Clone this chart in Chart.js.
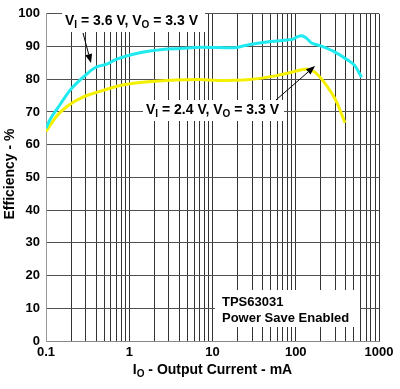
<!DOCTYPE html>
<html><head><meta charset="utf-8">
<script src="https://cdn.jsdelivr.net/npm/chart.js@4/dist/chart.umd.min.js"></script>
<style>html,body{margin:0;padding:0;background:#fff}</style>
</head><body>
<canvas id="c" width="400" height="389"></canvas>
<script>
// ---- data ----
const cyanCurrent = [0.1, 0.112, 0.147, 0.194, 0.25, 0.294, 0.35, 0.406, 0.536, 0.675, 0.93, 1.3, 1.77, 2.5, 4.07, 7.1, 12, 17.6, 22, 28, 44.8, 78, 94, 105, 118, 135, 155, 195, 282, 407, 515, 617];
const cyanEfficiency = [65, 67.7, 72.2, 76.6, 79.5, 81.1, 82.8, 83.8, 84.6, 85.9, 87.1, 88, 88.6, 89.1, 89.4, 89.8, 89.7, 89.6, 90, 90.6, 91.4, 92, 92.3, 93, 93.3, 92.5, 91.1, 90.3, 88.6, 86.1, 84.1, 80.6];
const yellowCurrent = [0.1, 0.134, 0.177, 0.281, 0.446, 0.775, 1.35, 2.82, 7.1, 11.2, 28, 59, 94, 135, 171, 234, 309, 390];
const yellowEfficiency = [64, 68.7, 71.6, 74.6, 76.3, 78.1, 79.0, 79.6, 79.9, 79.6, 79.9, 81.1, 82.3, 83.1, 82.1, 78.1, 73.1, 66.7];
const xGridValues = [0.1,0.2,0.3,0.4,0.5,0.6,0.7,0.8,0.9,1,2,3,4,5,6,7,8,9,10,20,30,40,50,60,70,80,90,100,200,300,400,500,600,700,800,900,1000];
const xTickLabels = ['0.1','1','10','100','1000'];
const seriesNames = ['VI = 3.6 V, VO = 3.3 V', 'VI = 2.4 V, VO = 3.3 V'];

const FONT = '"Liberation Sans", Arial, sans-serif';

function pts(xs, ys){ return xs.map((x,i)=>({x:x, y:ys[i]})); }

function rich(ctx, parts, x, y, size, subSize){
  let cx = x;
  parts.forEach(p=>{
    ctx.font = 'bold ' + (p.sub ? subSize : size) + 'px ' + FONT;
    ctx.fillText(p.t, cx, p.sub ? y + 3 : y);
    cx += ctx.measureText(p.t).width;
  });
  return cx - x;
}
function richWidth(ctx, parts, size, subSize){
  let w = 0;
  parts.forEach(p=>{ ctx.font = 'bold ' + (p.sub ? subSize : size) + 'px ' + FONT; w += ctx.measureText(p.t).width; });
  return w;
}
function arrow(ctx, x1, y1, x2, y2){
  ctx.save();
  ctx.strokeStyle = '#000'; ctx.fillStyle = '#000'; ctx.lineWidth = 1;
  const a = Math.atan2(y2-y1, x2-x1), L = 9, W = 3.5;
  const bx = x2 - L*Math.cos(a), by = y2 - L*Math.sin(a);
  ctx.beginPath(); ctx.moveTo(x1,y1); ctx.lineTo(bx,by); ctx.stroke();
  ctx.beginPath(); ctx.moveTo(x2,y2);
  ctx.lineTo(bx + W*Math.sin(a), by - W*Math.cos(a));
  ctx.lineTo(bx - W*Math.sin(a), by + W*Math.cos(a));
  ctx.closePath(); ctx.fill();
  ctx.restore();
}

const annot = {
  id: 'annot',
  afterDatasetsDraw(chart){
    const ctx = chart.ctx;
    ctx.save();
    ctx.fillStyle = '#000';
    ctx.textBaseline = 'alphabetic';
    ctx.textAlign = 'left';
    // label 1
    const l1 = [{t:'V'},{t:'I',sub:true},{t:' = 3.6 V, V'},{t:'O',sub:true},{t:' = 3.3 V'}];
    ctx.fillStyle = '#fff'; ctx.fillRect(62, 11, 143, 21);
    ctx.fillStyle = '#000'; rich(ctx, l1, 65, 25, 14, 10);
    // label 2
    const l2 = [{t:'V'},{t:'I',sub:true},{t:' = 2.4 V, V'},{t:'O',sub:true},{t:' = 3.3 V'}];
    ctx.fillStyle = '#fff'; ctx.fillRect(143, 100, 141, 21);
    ctx.fillStyle = '#000'; rich(ctx, l2, 146, 114, 14, 10);
    // device box
    ctx.fillStyle = '#fff'; ctx.fillRect(215, 290, 145, 37);
    ctx.fillStyle = '#000'; ctx.font = 'bold 13px ' + FONT;
    ctx.fillText('TPS63031', 222, 306);
    ctx.fillText('Power Save Enabled', 222, 322);
    // arrows
    arrow(ctx, 83, 33, 91, 63);
    arrow(ctx, 276, 100, 315, 66);
    // x title
    const xt = [{t:'I'},{t:'O',sub:true},{t:' - Output Current - mA'}];
    const w = richWidth(ctx, xt, 14, 10);
    rich(ctx, xt, 212.5 - w/2, 374, 14, 10);
    // y title
    ctx.translate(10, 174); ctx.rotate(-Math.PI/2);
    ctx.textAlign = 'center'; ctx.textBaseline = 'middle';
    ctx.font = 'bold 14px ' + FONT;
    ctx.fillText('Efficiency - %', 0, 0);
    ctx.restore();
  }
};

new Chart(document.getElementById('c'), {
  type: 'line',
  data: {
    datasets: [
      { label: seriesNames[0], data: pts(cyanCurrent, cyanEfficiency), borderColor: '#1EEAF0', borderWidth: 3, pointRadius: 0, cubicInterpolationMode: 'monotone', fill: false },
      { label: seriesNames[1], data: pts(yellowCurrent, yellowEfficiency), borderColor: '#F4F000', borderWidth: 3, pointRadius: 0, cubicInterpolationMode: 'monotone', fill: false }
    ]
  },
  options: {
    responsive: false,
    animation: false,
    devicePixelRatio: 1,
    layout: { padding: { top: 7, right: 21, left: 0, bottom: 0 } },
    plugins: { legend: { display: false }, tooltip: { enabled: false }, title: { display: false } },
    scales: {
      x: {
        type: 'logarithmic', min: 0.1, max: 1000,
        afterBuildTicks: s => { s.ticks = xGridValues.map(v => ({ value: v })); },
        afterFit: s => { s.height = 48; },
        grid: { color: '#333', lineWidth: 1, drawTicks: false },
        border: { color: '#888' },
        ticks: {
          autoSkip: false, maxRotation: 0, padding: 4, color: '#000',
          font: { family: FONT, size: 13, weight: 'bold' },
          callback: v => { const s = String(v); return xTickLabels.includes(s) ? s : ''; }
        }
      },
      y: {
        min: 0, max: 100,
        afterFit: s => { s.width = 46; },
        grid: { color: '#505050', lineWidth: 1, drawTicks: false },
        border: { color: '#999' },
        ticks: { stepSize: 10, padding: 6, color: '#000', font: { family: FONT, size: 13, weight: 'bold' } }
      }
    }
  },
  plugins: [annot]
});
</script>
</body></html>
